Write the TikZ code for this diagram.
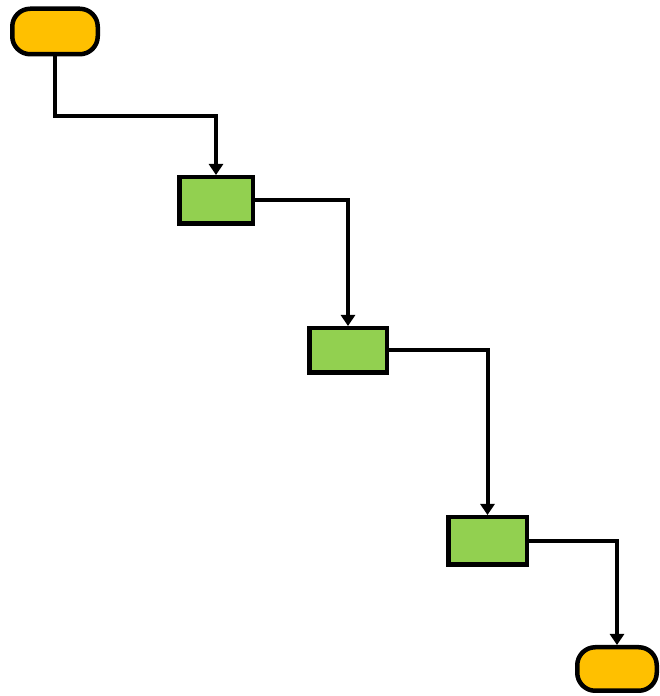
\documentclass[tikz,border=0pt]{standalone}
\usetikzlibrary{arrows.meta}
\definecolor{termorange}{HTML}{FFC000}
\definecolor{stepgreen}{HTML}{92D050}
\begin{document}
\begin{tikzpicture}[x=1pt,y=1pt,
  term/.style={draw=black, line width=4.5pt, fill=termorange, rounded corners=18pt, inner sep=0pt},
  stepbox/.style={draw=black, line width=4.5pt, fill=stepgreen, inner sep=0pt},
  conn/.style={draw=black, line width=4pt, -{Triangle[length=11pt,width=14pt]}}]
\useasboundingbox (0,0) rectangle (660,696);
\node[term, minimum width=85.5pt, minimum height=45.5pt] (s) at (55,664.5) {};
\node[stepbox, minimum width=73.5pt, minimum height=46.5pt] (b1) at (216,495.5) {};
\node[stepbox, minimum width=77.5pt, minimum height=44.5pt] (b2) at (348,345.5) {};
\node[stepbox, minimum width=78.5pt, minimum height=47.5pt] (b3) at (487.5,155) {};
\node[term, minimum width=79.5pt, minimum height=43.5pt] (e) at (617,27) {};
\coordinate (m) at (55,580);
\draw[conn] (s.south) -- (m) -| (b1.north);
\draw[conn] (b1.east) -| (b2.north);
\draw[conn] (b2.east) -| (b3.north);
\draw[conn] (b3.east) -| (e.north);
\end{tikzpicture}
\end{document}
